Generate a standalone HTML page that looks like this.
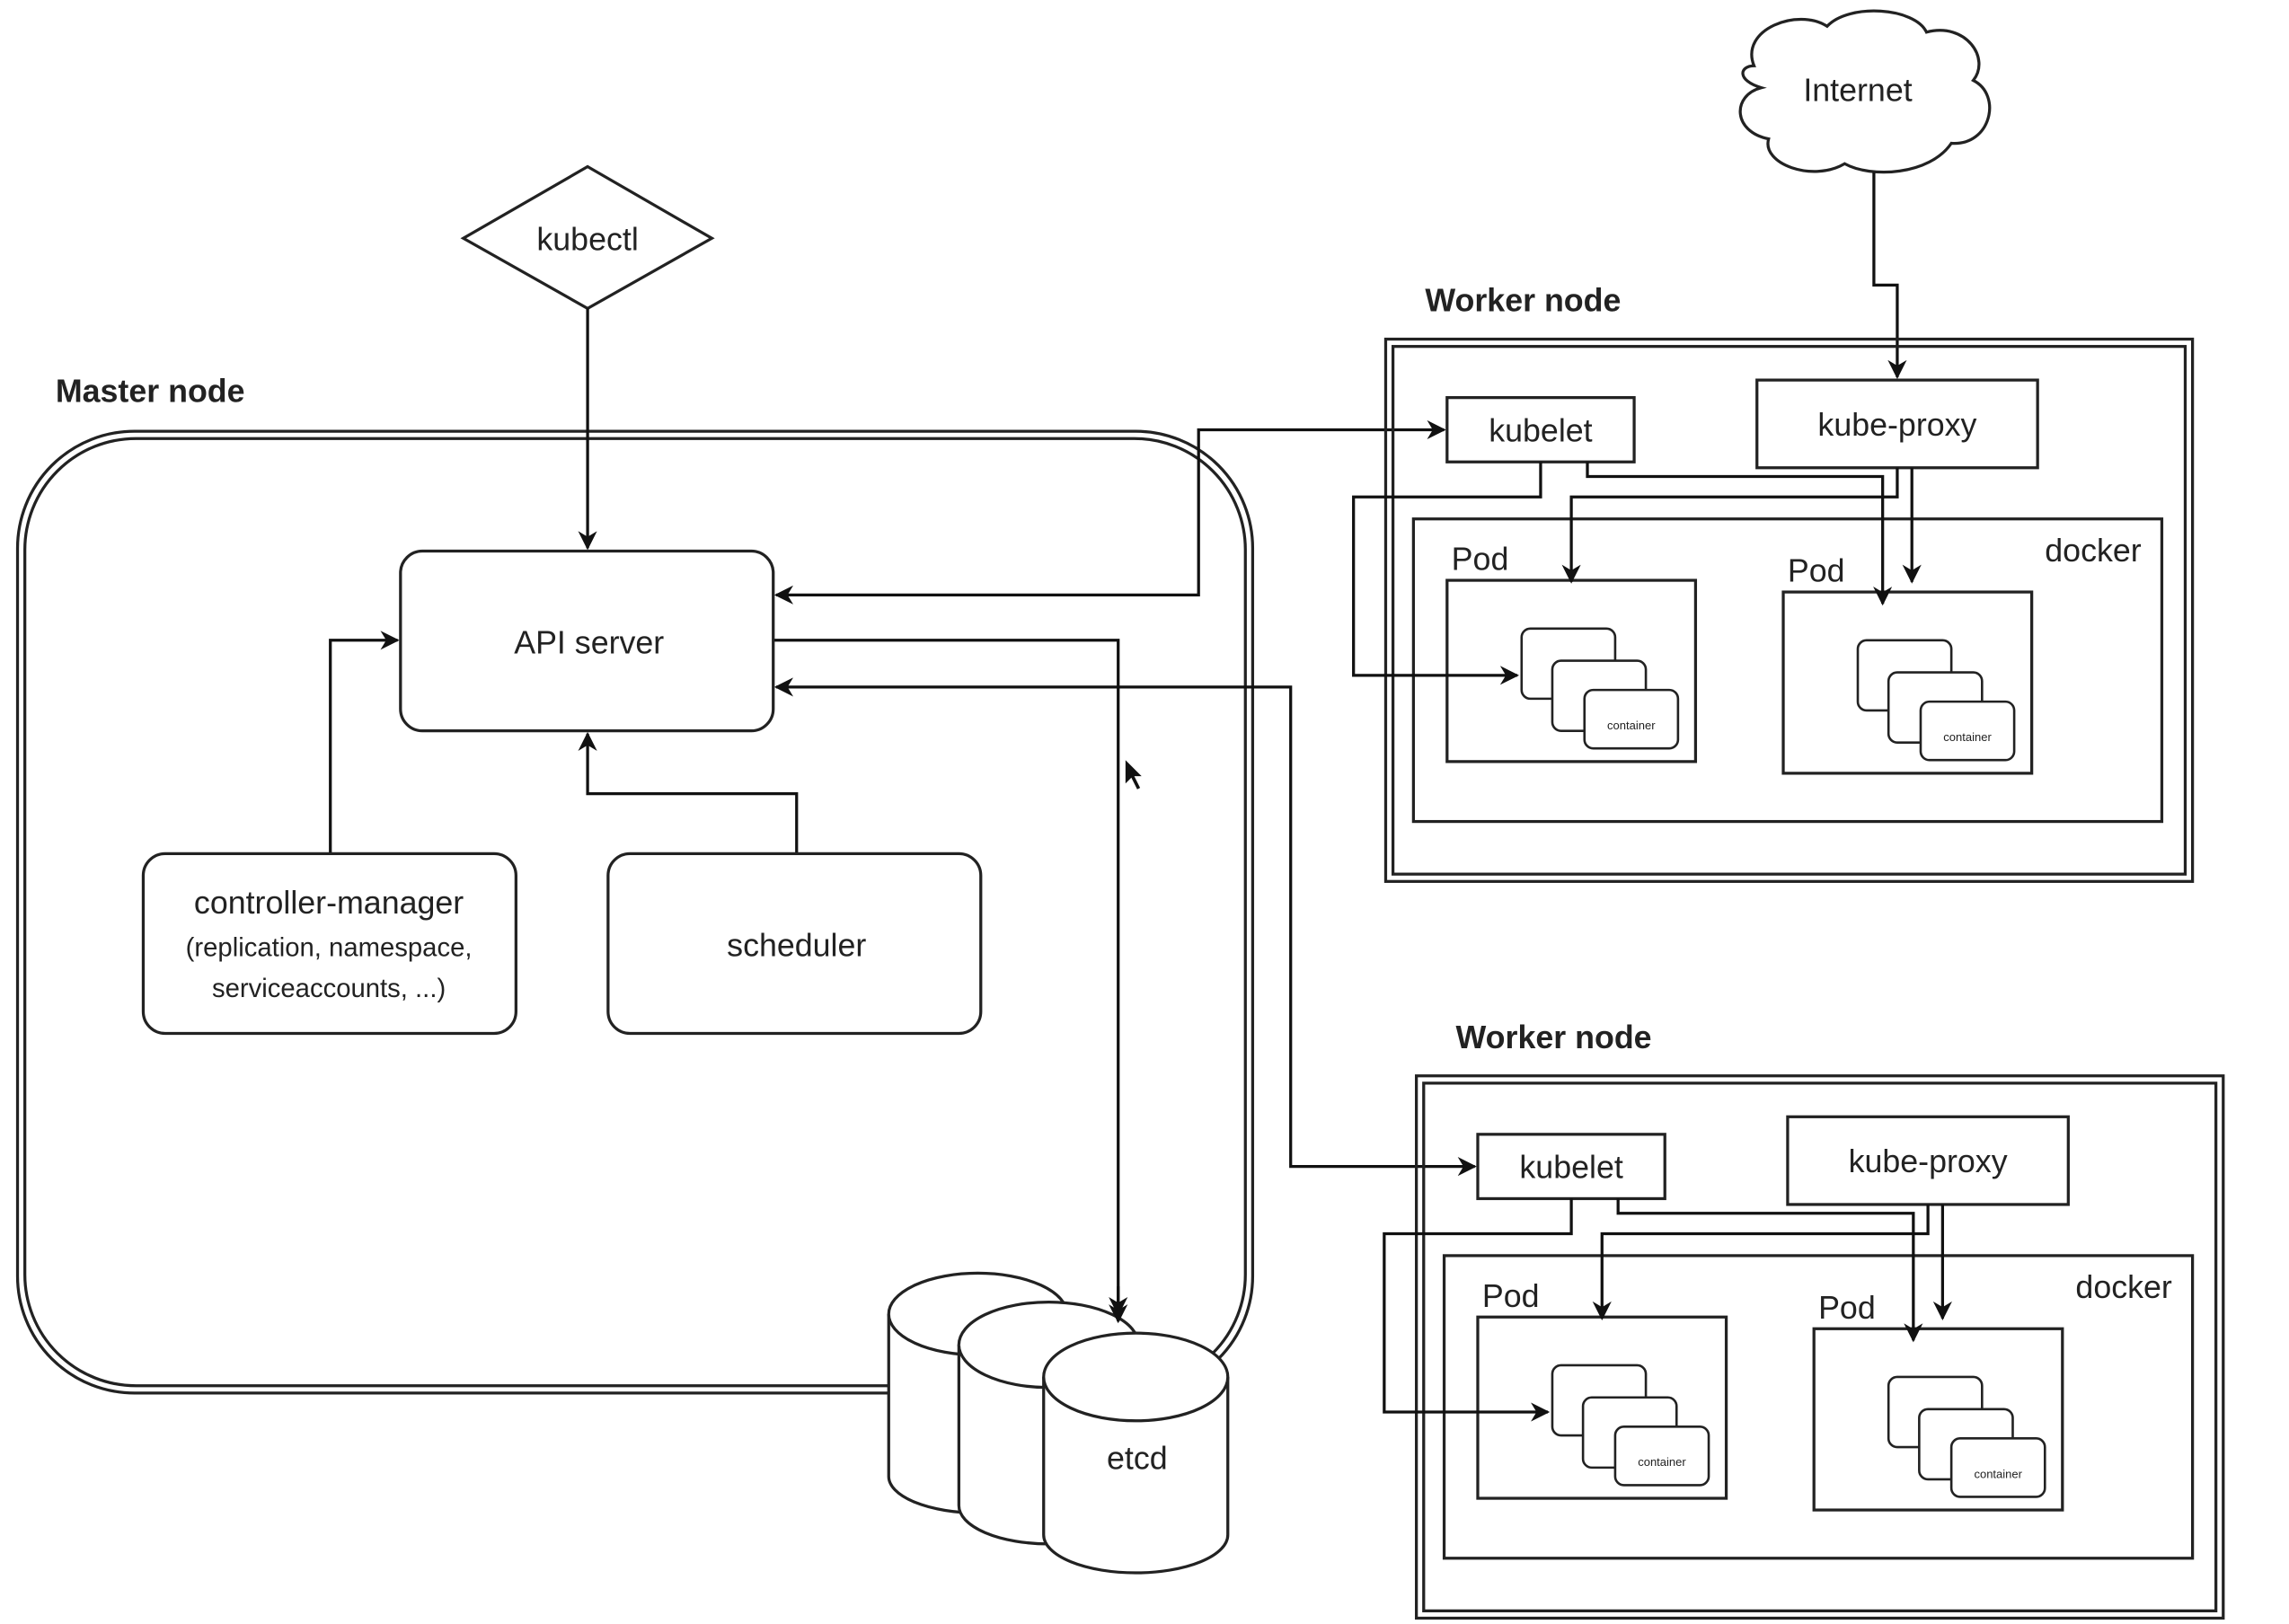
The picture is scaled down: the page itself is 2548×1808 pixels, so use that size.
<!DOCTYPE html>
<html><head><meta charset="utf-8"><style>
html,body{margin:0;padding:0;background:#fff;}
svg{display:block;}
text{font-family:"Liberation Sans",sans-serif;fill:#222;}
</style></head><body>
<svg width="2548" height="1808" viewBox="0 0 1566 1111" preserveAspectRatio="none" xmlns="http://www.w3.org/2000/svg">
<defs>
<marker id="a" viewBox="0 0 10 10" refX="9" refY="5" markerWidth="15" markerHeight="13" orient="auto-start-reverse" markerUnits="userSpaceOnUse">
<path d="M0,0 L10,5 L0,10 L3,5 z" fill="#111"/>
</marker>
<g id="worker">
<rect x="948" y="232" width="552" height="371" fill="none" stroke="#222" stroke-width="2"/>
<rect x="953" y="237" width="542" height="361" fill="none" stroke="#222" stroke-width="2"/>
<rect x="990" y="272" width="128" height="44" fill="#fff" stroke="#222" stroke-width="2"/>
<text x="1054" y="302" font-size="22" text-anchor="middle">kubelet</text>
<rect x="1202" y="260" width="192" height="60" fill="#fff" stroke="#222" stroke-width="2"/>
<text x="1298" y="298" font-size="22" text-anchor="middle">kube-proxy</text>
<rect x="967" y="355" width="512" height="207" fill="none" stroke="#222" stroke-width="2"/>
<text x="1465" y="384" font-size="22" text-anchor="end">docker</text>
<text x="993" y="390" font-size="22">Pod</text>
<rect x="990" y="397" width="170" height="124" fill="none" stroke="#222" stroke-width="2"/>
<text x="1223" y="398" font-size="22">Pod</text>
<rect x="1220" y="405" width="170" height="124" fill="none" stroke="#222" stroke-width="2"/>
<g stroke="#222" stroke-width="1.6" fill="#fff">
<rect x="1041" y="430" width="64" height="48" rx="6"/>
<rect x="1062" y="452" width="64" height="48" rx="6"/>
<rect x="1084" y="472" width="64" height="40" rx="6"/>
<rect x="1271" y="438" width="64" height="48" rx="6"/>
<rect x="1292" y="460" width="64" height="48" rx="6"/>
<rect x="1314" y="480" width="64" height="40" rx="6"/>
</g>
<text x="1116" y="499" font-size="8" text-anchor="middle">container</text>
<text x="1346" y="507" font-size="8" text-anchor="middle">container</text>
<g stroke="#111" stroke-width="2" fill="none">
<path d="M1054,316 V340 H926 V462 H1038" marker-end="url(#a)"/>
<path d="M1086,316 V326 H1288 V413" marker-end="url(#a)"/>
<path d="M1298,320 V340 H1075 V398" marker-end="url(#a)"/>
<path d="M1308,320 V398" marker-end="url(#a)"/>
</g>
</g>
</defs>

<path d="M1200,45 C1190,20 1230,5 1250,18 C1265,2 1310,5 1318,22 C1345,15 1362,40 1350,55 C1370,65 1362,100 1335,98 C1320,120 1280,122 1262,112 C1240,125 1205,112 1210,95 C1185,90 1185,65 1205,60 C1188,55 1190,45 1200,45 Z" fill="#fff" stroke="#222" stroke-width="2"/>
<text x="1271" y="69" font-size="22" text-anchor="middle">Internet</text>
<path d="M1282,118 V195 H1298 V258" fill="none" stroke="#111" stroke-width="2" marker-end="url(#a)"/>

<polygon points="402,114 487,163 402,211 317,163" fill="#fff" stroke="#222" stroke-width="2"/>
<text x="402" y="171" font-size="22" text-anchor="middle">kubectl</text>

<text x="38" y="275" font-size="22" font-weight="bold">Master node</text>
<rect x="12" y="295" width="845" height="658" rx="80" fill="none" stroke="#222" stroke-width="2"/>
<rect x="17" y="300" width="835" height="648" rx="76" fill="none" stroke="#222" stroke-width="2"/>

<g stroke="#111" stroke-width="2" fill="none">
<path d="M402,211 V375" marker-end="url(#a)"/>
<path d="M226,584 V438 H272" marker-end="url(#a)"/>
<path d="M545,584 V543 H402 V502" marker-end="url(#a)"/>
<path d="M531,407 H820 V294 H988" marker-start="url(#a)" marker-end="url(#a)"/>
<path d="M529,438 H765 V899" marker-end="url(#a)"/>
<path d="M531,470 H883 V798 H1009" marker-start="url(#a)" marker-end="url(#a)"/>
</g>

<rect x="274" y="377" width="255" height="123" rx="15" fill="#fff" stroke="#222" stroke-width="2"/>
<text x="403" y="447" font-size="22" text-anchor="middle">API server</text>
<rect x="98" y="584" width="255" height="123" rx="15" fill="#fff" stroke="#222" stroke-width="2"/>
<text x="225" y="625" font-size="22" text-anchor="middle">controller-manager</text>
<text x="225" y="654" font-size="18" text-anchor="middle">(replication, namespace,</text>
<text x="225" y="682" font-size="18" text-anchor="middle">serviceaccounts, ...)</text>
<rect x="416" y="584" width="255" height="123" rx="15" fill="#fff" stroke="#222" stroke-width="2"/>
<text x="545" y="654" font-size="22" text-anchor="middle">scheduler</text>

<g transform="translate(8,10)">
<g stroke="#222" stroke-width="2" fill="#fff">
<path d="M600,889 A61,28 0 0 1 722,889 V1000 A61,25 0 0 1 600,1000 Z"/>
<path d="M600,889 A61,28 0 0 0 722,889"/>
<path d="M648,910 A61,29 0 0 1 771,910 V1020 A61,26 0 0 1 648,1020 Z"/>
<path d="M648,910 A61,29 0 0 0 771,910"/>
<path d="M706,932 A63,30 0 0 1 832,932 V1040 A63,26 0 0 1 706,1040 Z"/>
<path d="M706,932 A63,30 0 0 0 832,932"/>
</g>
<text x="770" y="995" font-size="22" text-anchor="middle">etcd</text>
</g>
<path d="M765,880 V904" stroke="#111" stroke-width="2" marker-end="url(#a)"/>
<path d="M770,520 l0,16 l4,-4 l4,8 l2,-1 l-4,-8 l5,0 z" fill="#111"/>

<text x="975" y="213" font-size="22" font-weight="bold">Worker node</text>
<use href="#worker"/>
<text x="996" y="717" font-size="22" font-weight="bold">Worker node</text>
<use href="#worker" transform="translate(21,504)"/>
</svg>
</body></html>
